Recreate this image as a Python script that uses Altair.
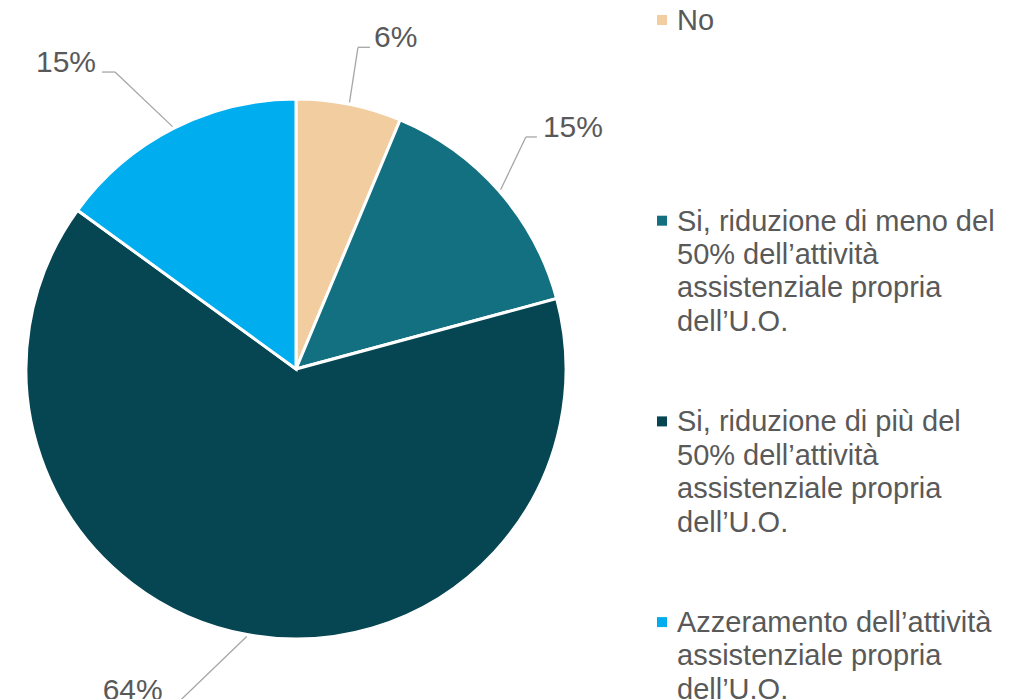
import altair as alt
import pandas as pd

# ---- data ----
categories = [
    "No",
    "Si, riduzione di meno del 50% dell'attività assistenziale propria dell'U.O.",
    "Si, riduzione di più del 50% dell'attività assistenziale propria dell'U.O.",
    "Azzeramento dell'attività assistenziale propria dell'U.O.",
]
values = [6.3, 14.5, 64.2, 15.0]
pct_labels = ["6%", "15%", "64%", "15%"]
legend_texts = [
    "No",
    "Si, riduzione di meno del\n50% dell\u2019attività\nassistenziale propria\ndell\u2019U.O.",
    "Si, riduzione di più del\n50% dell\u2019attività\nassistenziale propria\ndell\u2019U.O.",
    "Azzeramento dell\u2019attività\nassistenziale propria\ndell\u2019U.O.",
]
colors = ["#F1CDA0", "#137080", "#064552", "#00AEEF"]

df = pd.DataFrame({
    "category": categories,
    "value": values,
    "label": pct_labels,
    "legend": legend_texts,
    "order": list(range(len(categories))),
})

# ---- layout constants (styling only) ----
W, H = 1006, 691
CX, CY, R = 288, 361, 270
RL = R + 2
FONT = "Liberation Sans"
TXT = "#595959"
LINE = "#A6A6A6"

color_enc = alt.Color("category:N", scale=alt.Scale(domain=categories, range=colors), legend=None)

base = alt.Chart(df)

pie = base.mark_arc(outerRadius=R, stroke="white", strokeWidth=3).encode(
    theta=alt.Theta("value:Q", stack=True),
    color=color_enc,
    order=alt.Order("order:Q"),
    x=alt.value(CX),
    y=alt.value(CY),
)

polar = (
    base.transform_window(cum="sum(value)", sort=[alt.SortField("order")], frame=[None, 0])
    .transform_joinaggregate(total="sum(value)")
    .transform_calculate(
        mid="(datum.cum - datum.value/2) / datum.total * 2 * PI",
    )
    .transform_calculate(
        sx=f"{CX} + {RL} * sin(datum.mid)",
        sy=f"{CY} - {RL} * cos(datum.mid)",
    )
)


def leader(cat, ex, ey, run, align, dx):
    b = polar.transform_filter(alt.datum.category == cat).transform_calculate(
        ex=f"datum.sx + ({ex})",
        ey=f"datum.sy + ({ey})",
    ).transform_calculate(hx=f"datum.ex + ({run})")
    seg1 = b.mark_rule(color=LINE, strokeWidth=1.3).encode(
        x=alt.X("sx:Q", scale=None), y=alt.Y("sy:Q", scale=None),
        x2="ex:Q", y2="ey:Q",
    )
    seg2 = b.mark_rule(color=LINE, strokeWidth=1.3).encode(
        x=alt.X("ex:Q", scale=None), y=alt.Y("ey:Q", scale=None), x2="hx:Q",
    )
    txt = b.mark_text(
        align=align, baseline="alphabetic", dx=dx, fontSize=30, font=FONT, color=TXT
    ).encode(
        x=alt.X("hx:Q", scale=None), y=alt.Y("ey:Q", scale=None), text="label:N"
    )
    return [seg1, seg2, txt]


labels = []
labels += leader(categories[0], 8.5, -55, 12, "left", 4)
labels += leader(categories[1], 25.3, -52.8, 11, "left", 6)
labels += leader(categories[2], -66, 63.5, -12, "right", -6)
labels += leader(categories[3], -57.5, -54.6, -13, "right", -6)

leg = base.transform_calculate(
    ly="22 + datum.order * 200.7",
    sqy="12 + datum.order * 200.7",
)
leg_sq = leg.mark_square(size=100, opacity=1).encode(
    x=alt.value(654),
    y=alt.Y("sqy:Q", scale=None),
    color=color_enc,
)
leg_txt = leg.mark_text(
    align="left", baseline="alphabetic", fontSize=29, font=FONT, color=TXT,
    lineBreak="\n", lineHeight=33.4,
).encode(
    x=alt.value(669),
    y=alt.Y("ly:Q", scale=None),
    text="legend:N",
)

chart = alt.layer(pie, *labels, leg_sq, leg_txt).properties(
    width=W, height=H, padding=0,
    autosize=alt.AutoSizeParams(type="none"),
    background="white",
).configure_view(stroke=None)

chart.save("out.html", embed_options={"renderer": "svg", "actions": False})
